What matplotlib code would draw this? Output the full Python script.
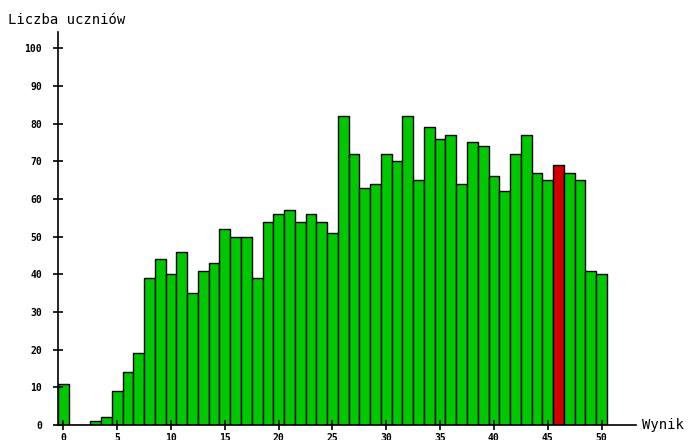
import matplotlib
matplotlib.use("Agg")
import matplotlib.pyplot as plt

# wynik 0..50 -> liczba uczniów
scores = list(range(0, 51))
counts = [11, 0, 0, 1, 2, 9, 14, 19, 39, 44,
          40, 46, 35, 41, 43, 52, 50, 50, 39, 54,
          56, 57, 54, 56, 54, 51, 82, 72, 63, 64,
          72, 70, 82, 65, 79, 76, 77, 64, 75, 74,
          66, 62, 72, 77, 67, 65, 69, 67, 65, 41,
          40]
highlight = 46
xticks = list(range(0, 51, 5))
yticks = list(range(0, 101, 10))

colors = ["#d00000" if s == highlight else "#00c800" for s in scores]

fig = plt.figure(figsize=(6.89, 4.40), dpi=100)
ax = fig.add_axes([58 / 689, 15 / 440, (636 - 58) / 689, (425 - 32) / 440])

ax.bar(scores, counts, width=1.0, color=colors, edgecolor="black", linewidth=1.0)

ax.set_xlim(-0.5, 53.2)
ax.set_ylim(0, 104.3)
ax.set_xticks(xticks)
ax.set_yticks(yticks)

for side in ("top", "right"):
    ax.spines[side].set_visible(False)
for side in ("left", "bottom"):
    ax.spines[side].set_linewidth(1.2)

ax.tick_params(direction="inout", length=7, width=1.2, labelsize=7,
               colors="black")
ax.tick_params(axis="y", pad=8)
ax.tick_params(axis="x", pad=2)
for lab in ax.get_xticklabels() + ax.get_yticklabels():
    lab.set_family("DejaVu Sans Mono")
    lab.set_fontweight("bold")

fig.text(8 / 689, 1 - 20 / 440, "Liczba uczniów", family="DejaVu Sans Mono",
         fontsize=10, va="center", ha="left")
fig.text(642 / 689, 1 - 425 / 440, "Wynik", family="DejaVu Sans Mono",
         fontsize=10, va="center", ha="left")

fig.savefig("out.png", dpi=100)
